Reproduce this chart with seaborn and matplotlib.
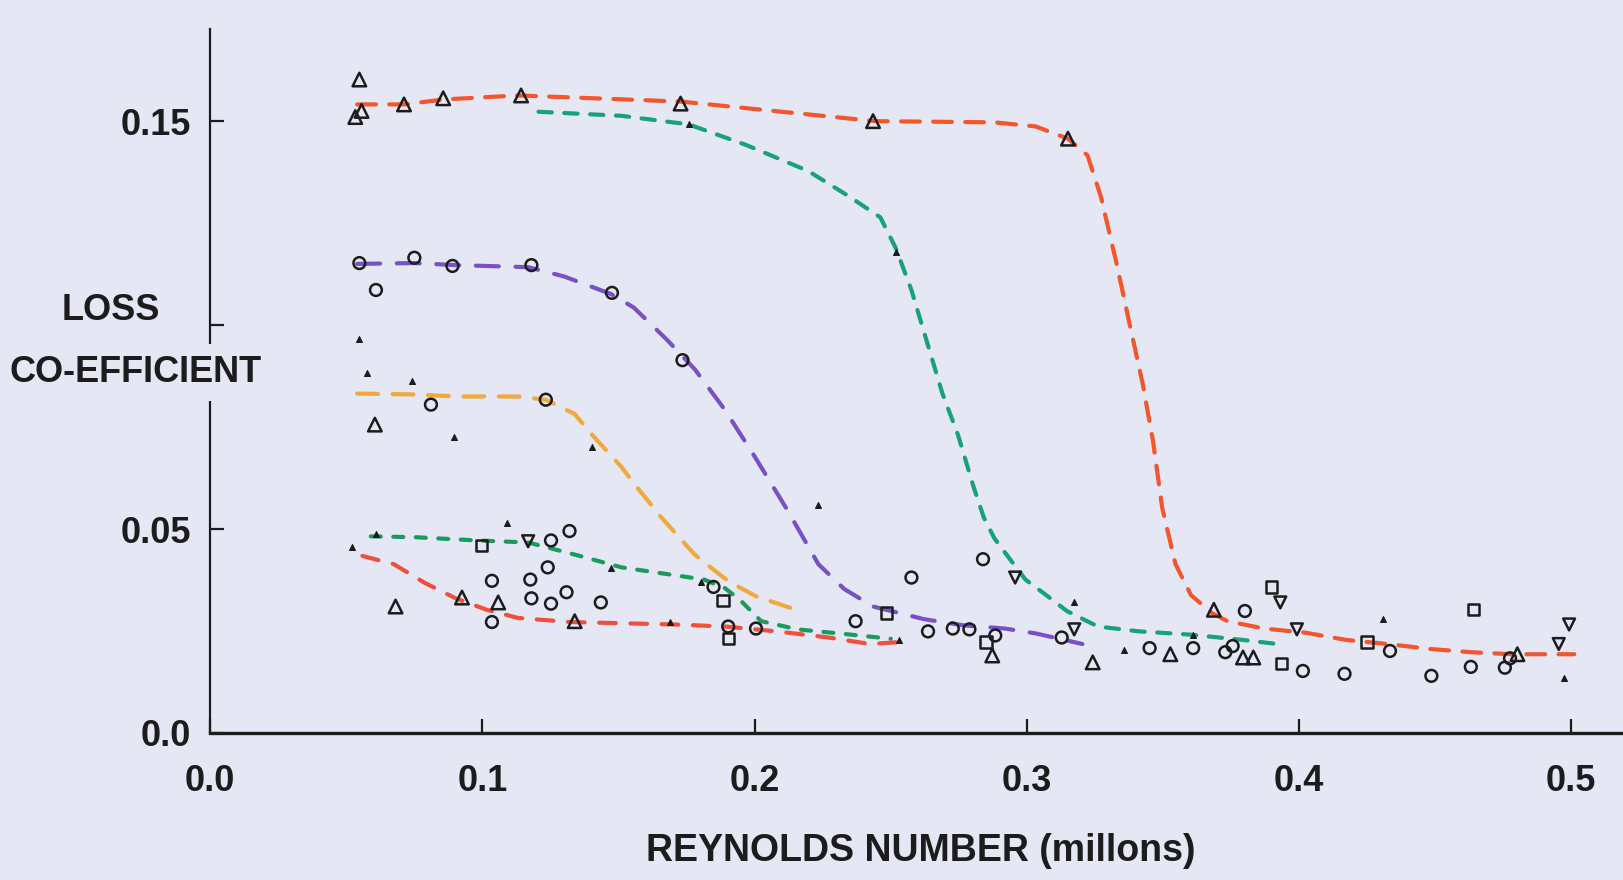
import matplotlib
matplotlib.use("Agg")
import matplotlib.pyplot as plt
import seaborn as sns
import pandas as pd

# ---------------------------------------------------------------------------
# Loss coefficient against Reynolds number (millions)
# ---------------------------------------------------------------------------

# Upper red curve
red_hi_x = [0.0540, 0.0712, 0.0856, 0.1130, 0.1728, 0.2443, 0.2881, 0.3033, 0.3151,
            0.3223, 0.3272, 0.3330, 0.3375, 0.3425, 0.3463, 0.3497, 0.3546, 0.3603,
            0.3680, 0.3737, 0.3870, 0.4022, 0.4174, 0.4326, 0.4479, 0.4631, 0.4783, 0.5011]
red_hi_y = [0.1541, 0.1541, 0.1553, 0.1563, 0.1548, 0.1500, 0.1497, 0.1487, 0.1457,
            0.1416, 0.1315, 0.1150, 0.1010, 0.0858, 0.0718, 0.0553, 0.0414, 0.0338,
            0.0294, 0.0274, 0.0256, 0.0246, 0.0228, 0.0218, 0.0206, 0.0198, 0.0193, 0.0193]

# Upper green curve
green_hi_x = [0.1206, 0.1511, 0.1758, 0.1967, 0.2196, 0.2348, 0.2462, 0.2519, 0.2576,
              0.2633, 0.2690, 0.2747, 0.2804, 0.2842, 0.2881, 0.2938, 0.2995, 0.3071,
              0.3147, 0.3261, 0.3413, 0.3603, 0.3794, 0.3946]
green_hi_y = [0.1523, 0.1513, 0.1492, 0.1442, 0.1378, 0.1315, 0.1264, 0.1188, 0.1086,
              0.0959, 0.0832, 0.0731, 0.0604, 0.0528, 0.0477, 0.0426, 0.0376, 0.0338,
              0.0299, 0.0261, 0.0249, 0.0241, 0.0228, 0.0216]

# Purple curve
purple_x = [0.0540, 0.0750, 0.0902, 0.1168, 0.1301, 0.1473, 0.1556, 0.1678, 0.1781,
            0.1891, 0.1998, 0.2119, 0.2234, 0.2329, 0.2435, 0.2622, 0.2766, 0.2919,
            0.3033, 0.3204]
purple_y = [0.1150, 0.1152, 0.1147, 0.1142, 0.1119, 0.1076, 0.1043, 0.0964, 0.0891,
            0.0792, 0.0680, 0.0548, 0.0414, 0.0353, 0.0310, 0.0279, 0.0264, 0.0256,
            0.0244, 0.0218]

# Orange curve
orange_x = [0.0540, 0.0750, 0.0902, 0.1130, 0.1233, 0.1339, 0.1396, 0.1511, 0.1556,
            0.1606, 0.1655, 0.1720, 0.1777, 0.1838, 0.1906, 0.2005, 0.2139]
orange_y = [0.0832, 0.0830, 0.0825, 0.0825, 0.0817, 0.0782, 0.0736, 0.0652, 0.0612,
            0.0571, 0.0530, 0.0482, 0.0439, 0.0406, 0.0371, 0.0335, 0.0305]

# Lower green curve
green_lo_x = [0.0590, 0.0750, 0.0978, 0.1168, 0.1358, 0.1511, 0.1663, 0.1815, 0.1891,
              0.1948, 0.2024, 0.2158, 0.2310, 0.2500]
green_lo_y = [0.0482, 0.0480, 0.0472, 0.0467, 0.0434, 0.0406, 0.0391, 0.0376, 0.0355,
              0.0325, 0.0274, 0.0254, 0.0244, 0.0231]

# Lower red curve
red_lo_x = [0.0559, 0.0674, 0.0788, 0.0902, 0.1016, 0.1130, 0.1320, 0.1511, 0.1701,
            0.1891, 0.2081, 0.2272, 0.2424, 0.2538]
red_lo_y = [0.0434, 0.0414, 0.0368, 0.0330, 0.0302, 0.0282, 0.0272, 0.0269, 0.0266,
            0.0261, 0.0249, 0.0234, 0.0218, 0.0223]

# Measured points, grouped by symbol
tri_x = [0.0548, 0.0533, 0.0556, 0.0712, 0.0856, 0.1142, 0.1728, 0.2435, 0.3151,
         0.0605, 0.0925, 0.0681, 0.1058, 0.1339, 0.2873, 0.3242, 0.3687, 0.3794,
         0.3832, 0.4802, 0.3527]
tri_y = [0.1602, 0.1510, 0.1525, 0.1541, 0.1556, 0.1563, 0.1543, 0.1500, 0.1457,
         0.0756, 0.0332, 0.0310, 0.0320, 0.0274, 0.0190, 0.0173, 0.0302, 0.0185,
         0.0185, 0.0193, 0.0193]

circ_x = [0.0548, 0.0750, 0.0890, 0.1180, 0.1476, 0.0609, 0.1735, 0.0811, 0.1233,
          0.1035, 0.1035, 0.1176, 0.1180, 0.1240, 0.1252, 0.1320, 0.1252, 0.1309,
          0.1435, 0.1849, 0.1903, 0.2005, 0.2371, 0.2576, 0.2637, 0.2728, 0.2789,
          0.2884, 0.2839, 0.3128, 0.3451, 0.3729, 0.3756, 0.3801, 0.4014, 0.4167,
          0.4334, 0.4486, 0.4631, 0.4756, 0.4775, 0.3611]
circ_y = [0.1152, 0.1165, 0.1145, 0.1147, 0.1079, 0.1086, 0.0914, 0.0805, 0.0817,
          0.0373, 0.0272, 0.0376, 0.0330, 0.0406, 0.0472, 0.0495, 0.0317, 0.0345,
          0.0320, 0.0358, 0.0261, 0.0256, 0.0274, 0.0381, 0.0249, 0.0256, 0.0254,
          0.0239, 0.0426, 0.0234, 0.0208, 0.0198, 0.0213, 0.0299, 0.0152, 0.0145,
          0.0201, 0.0140, 0.0162, 0.0160, 0.0183, 0.0208]

sq_x = [0.0997, 0.1884, 0.1903, 0.2485, 0.2850, 0.3900, 0.3935, 0.4250, 0.4642]
sq_y = [0.0459, 0.0325, 0.0231, 0.0294, 0.0223, 0.0358, 0.0170, 0.0223, 0.0302]

dtri_x = [0.1168, 0.2957, 0.3174, 0.3931, 0.3992, 0.4954, 0.4992]
dtri_y = [0.0470, 0.0381, 0.0254, 0.0320, 0.0254, 0.0218, 0.0266]

tick_x = [0.0548, 0.0575, 0.0742, 0.0894, 0.1404, 0.1758, 0.2519, 0.0609, 0.1473,
          0.1689, 0.1804, 0.2530, 0.3174, 0.3356, 0.3611, 0.4307, 0.4973, 0.2234,
          0.0521, 0.1092]
tick_y = [0.0967, 0.0883, 0.0863, 0.0726, 0.0701, 0.1492, 0.1180, 0.0487, 0.0404,
          0.0272, 0.0371, 0.0228, 0.0320, 0.0203, 0.0239, 0.0279, 0.0135, 0.0558,
          0.0457, 0.0515]

x_ticks = [0.0, 0.1, 0.2, 0.3, 0.4, 0.5]
x_tick_labels = ["0.0", "0.1", "0.2", "0.3", "0.4", "0.5"]
y_ticks = [0.0, 0.05, 0.10, 0.15]
y_tick_labels = ["0.0", "0.05", "", "0.15"]

# ---------------------------------------------------------------------------
PAPER = "#E6E7F5"
INK = "#1c1c1c"

sns.set_theme(style="white")
plt.rcParams["font.family"] = ["Liberation Sans", "DejaVu Sans"]
plt.rcParams["lines.dash_capstyle"] = "round"

fig = plt.figure(figsize=(16.23, 8.80), dpi=100)
fig.patch.set_facecolor(PAPER)
ax = fig.add_axes([0.1295, 0.1671, 0.8705, 0.8000])
ax.set_facecolor(PAPER)

curves = [
    (red_hi_x, red_hi_y, "#F2562C", (0, (4.5, 3.2))),
    (green_hi_x, green_hi_y, "#17A27A", (0, (3.2, 3.0))),
    (purple_x, purple_y, "#7A50C6", (0, (5.5, 4.0))),
    (orange_x, orange_y, "#F0A93A", (0, (5.0, 3.5))),
    (green_lo_x, green_lo_y, "#1C9A5E", (0, (2.4, 3.0))),
    (red_lo_x, red_lo_y, "#EF4F3B", (0, (4.0, 3.5))),
]
for cx, cy, col, dash in curves:
    df = pd.DataFrame({"re": cx, "k": cy})
    sns.lineplot(data=df, x="re", y="k", sort=False, estimator=None, color=col,
                 linewidth=3.0, linestyle=dash, ax=ax, zorder=2)

points = [
    (tri_x, tri_y, "^", 95),
    (circ_x, circ_y, "o", 72),
    (sq_x, sq_y, "s", 66),
    (dtri_x, dtri_y, "v", 72),
]
for px, py, mk, size in points:
    sns.scatterplot(x=px, y=py, marker=mk, s=size, facecolors="none",
                    edgecolor=INK, linewidth=1.8, ax=ax, zorder=3)

sns.scatterplot(x=tick_x, y=tick_y, marker="^", s=18, color=INK,
                edgecolor=INK, linewidth=0.8, ax=ax, zorder=3)

ax.set_xlim(0, 0.519)
ax.set_ylim(0, 0.1726)

for side in ("top", "right"):
    ax.spines[side].set_visible(False)
ax.spines["left"].set_linewidth(1.6)
ax.spines["left"].set_color(INK)
ax.spines["bottom"].set_linewidth(2.4)
ax.spines["bottom"].set_color(INK)

ax.set_xticks(x_ticks)
ax.set_xticklabels(x_tick_labels)
ax.set_yticks(y_ticks)
ax.set_yticklabels(y_tick_labels)
ax.tick_params(axis="x", which="major", bottom=True, direction="in", length=10,
               width=1.6, color=INK, labelsize=26, pad=22, labelcolor=INK)
ax.tick_params(axis="y", which="major", left=True, direction="in", length=10,
               width=1.6, color=INK, labelsize=26, pad=14, labelcolor=INK)
for lab in ax.get_xticklabels() + ax.get_yticklabels():
    lab.set_fontweight("bold")

ax.set_xlabel("REYNOLDS NUMBER (millons)", fontsize=27, fontweight="bold", color=INK)
ax.xaxis.set_label_coords(0.503, -0.168)
ax.xaxis.label.set_va("center")
ax.set_ylabel("")

ax.text(-0.0703, 0.600, "LOSS", transform=ax.transAxes, ha="center", va="center",
        fontsize=26, fontweight="bold", color=INK)
ax.text(-0.0527, 0.512, "CO-EFFICIENT", transform=ax.transAxes, ha="center",
        va="center", fontsize=26, fontweight="bold", color=INK, clip_on=False,
        zorder=5, bbox=dict(boxstyle="square,pad=0.3", fc=PAPER, ec="none"))

fig.savefig("out.png", dpi=100, facecolor=PAPER)
